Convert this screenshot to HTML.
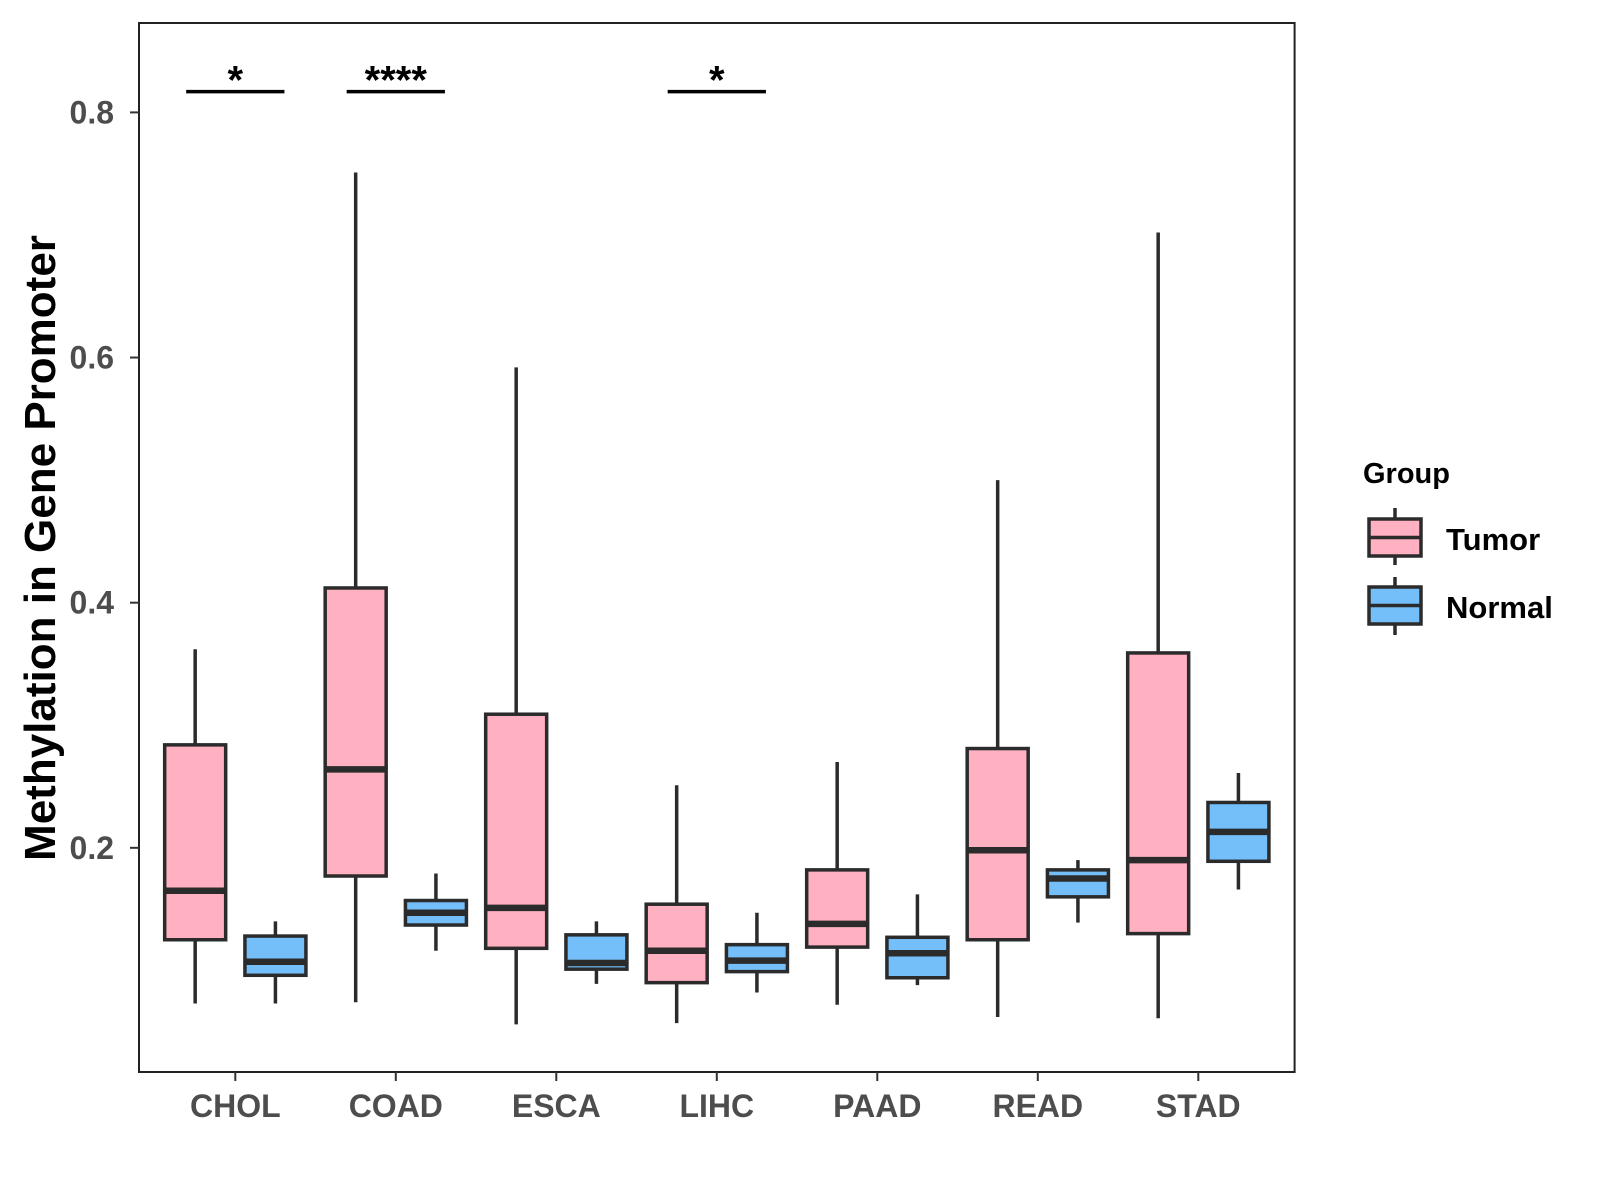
<!DOCTYPE html>
<html><head><meta charset="utf-8"><style>
html,body{margin:0;padding:0;background:#fff;}
svg{display:block;font-family:"Liberation Sans",Arial,sans-serif;}
</style></head><body>
<svg id="chart" width="1600" height="1200" viewBox="0 0 1600 1200" xmlns="http://www.w3.org/2000/svg">
<rect width="1600" height="1200" fill="#fff"/>
<g id="marks"></g>
<rect x="139" y="23" width="1155.6" height="1049" fill="none" stroke="#222" stroke-width="2"/>
<g id="axes"></g>
<text transform="translate(55,548) rotate(-90)" text-anchor="middle" font-size="44" font-weight="bold" fill="#000">Methylation in Gene Promoter</text>
<g>
<text x="1363" y="483" font-size="29" font-weight="bold" fill="#000">Group</text>
<g>
<line x1="1395" y1="508" x2="1395" y2="565" stroke="#2b2b2b" stroke-width="3.5"/>
<rect x="1369" y="519" width="52" height="37" fill="#FFB0C1" stroke="#2b2b2b" stroke-width="3.5"/>
<line x1="1369" y1="537.5" x2="1421" y2="537.5" stroke="#2b2b2b" stroke-width="3.5"/>
<text x="1446" y="550" font-size="31" font-weight="bold" fill="#000">Tumor</text>
</g>
<g>
<line x1="1395" y1="577" x2="1395" y2="635" stroke="#2b2b2b" stroke-width="3.5"/>
<rect x="1369" y="587" width="52" height="37" fill="#74BFFA" stroke="#2b2b2b" stroke-width="3.5"/>
<line x1="1369" y1="605.5" x2="1421" y2="605.5" stroke="#2b2b2b" stroke-width="3.5"/>
<text x="1446" y="618" font-size="31" font-weight="bold" fill="#000">Normal</text>
</g>
</g>
</svg>
<script>
const categories = ["CHOL","COAD","ESCA","LIHC","PAAD","READ","STAD"];
const tumorLow = [0.073,0.074,0.056,0.057,0.072,0.062,0.061];
const tumorQ1 = [0.125,0.177,0.118,0.090,0.119,0.125,0.130];
const tumorMed = [0.165,0.264,0.151,0.116,0.138,0.198,0.190];
const tumorQ3 = [0.284,0.412,0.309,0.154,0.182,0.281,0.359];
const tumorHigh = [0.362,0.751,0.592,0.251,0.270,0.500,0.702];
const normalLow = [0.073,0.116,0.089,0.082,0.088,0.139,0.166];
const normalQ1 = [0.096,0.137,0.101,0.099,0.094,0.160,0.189];
const normalMed = [0.107,0.147,0.106,0.108,0.114,0.175,0.213];
const normalQ3 = [0.128,0.157,0.129,0.121,0.127,0.182,0.237];
const normalHigh = [0.140,0.179,0.140,0.147,0.162,0.190,0.261];
const yTicks = [0.2,0.4,0.6,0.8];
const sigCategories = ["CHOL","COAD","LIHC"];
const sigLabels = ["*","****","*"];
const sigLevel = [0.817,0.817,0.817];

const NS="http://www.w3.org/2000/svg";
const X0=139, UNIT=160.5;
function xScale(i){return X0+UNIT*(0.6+i);}
function yScale(v){return 112.4+(0.8-v)*1225.7;}
function mk(tag,attrs,parent){const e=document.createElementNS(NS,tag);for(const k in attrs)e.setAttribute(k,attrs[k]);parent.appendChild(e);return e;}
const marks=document.getElementById('marks');
const axes=document.getElementById('axes');
const HW=0.19*UNIT, OFF=0.25*UNIT;
function drawBox(cx,lo,q1,md,q3,hi,fill,name){
  const g=mk('g',{},marks);
  
  
  mk('line',{x1:cx,x2:cx,y1:yScale(hi),y2:yScale(lo),stroke:'#2b2b2b','stroke-width':3.5},g);
  mk('rect',{x:cx-HW,y:yScale(q3),width:2*HW,height:yScale(q1)-yScale(q3),fill:fill,stroke:'#2b2b2b','stroke-width':3.5},g);
  mk('line',{x1:cx-HW,x2:cx+HW,y1:yScale(md),y2:yScale(md),stroke:'#2b2b2b','stroke-width':6.5},g);
}
categories.forEach((c,i)=>{
  const cx=xScale(i);
  drawBox(cx-OFF,tumorLow[i],tumorQ1[i],tumorMed[i],tumorQ3[i],tumorHigh[i],'#FFB0C1','box-'+c.toLowerCase()+'-tumor');
  drawBox(cx+OFF,normalLow[i],normalQ1[i],normalMed[i],normalQ3[i],normalHigh[i],'#74BFFA','box-'+c.toLowerCase()+'-normal');
  const t=mk('line',{x1:cx,x2:cx,y1:1072,y2:1081,stroke:'#333','stroke-width':2},axes);
  
  
  const lb=mk('text',{x:cx,y:1117,'text-anchor':'middle','font-size':32,'font-weight':'bold',fill:'#4d4d4d'},axes);
  lb.textContent=c;
  
  
});
yTicks.forEach(v=>{
  const y=yScale(v);
  const t=mk('line',{x1:130,x2:139,y1:y,y2:y,stroke:'#333','stroke-width':2},axes);
  
  
  const lb=mk('text',{x:114,y:y+11,'text-anchor':'end','font-size':32,'font-weight':'bold',fill:'#4d4d4d'},axes);
  lb.textContent=v.toFixed(1);
  
  
});
sigCategories.forEach((c,k)=>{
  const i=categories.indexOf(c);
  const cx=xScale(i), y=yScale(sigLevel[k]);
  const ln=mk('line',{x1:cx-OFF-9,x2:cx+OFF+9,y1:y,y2:y,stroke:'#000','stroke-width':3.5},marks);
  
  
  const tx=mk('text',{x:cx,y:y+2,'text-anchor':'middle','font-size':40,'font-weight':'bold',fill:'#000'},marks);
  tx.textContent=sigLabels[k];
  
  
});
</script>
</body></html>
